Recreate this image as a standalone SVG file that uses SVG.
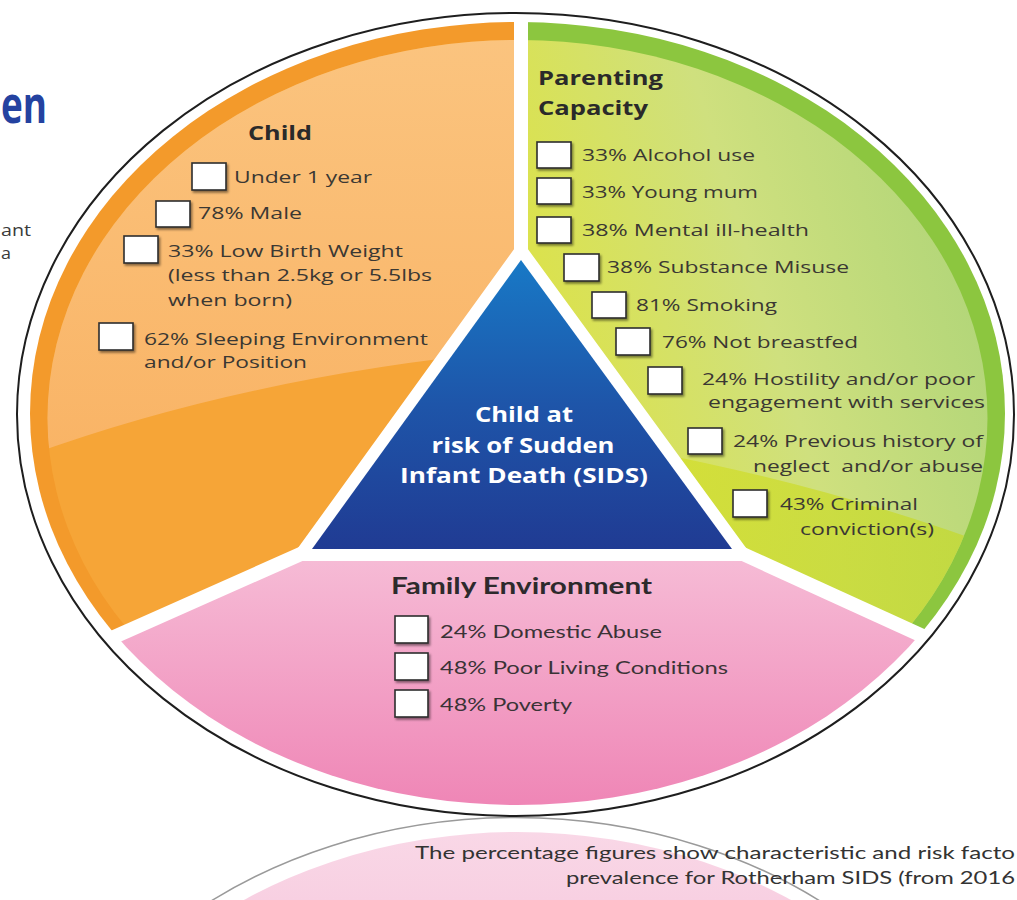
<svg xmlns="http://www.w3.org/2000/svg" width="1017" height="900" viewBox="0 0 1017 900">
<defs>
<style>
.it{font-family:"Open Sans","DejaVu Sans",sans-serif;font-size:16px;fill:#3b3833}
.hd{font-family:"Open Sans","DejaVu Sans",sans-serif;font-weight:700;font-size:20px;fill:#2a2a2a}
.fe{font-family:Lato,"Liberation Sans",sans-serif;font-size:17.5px;fill:#3a3336}
.feh{font-family:Lato,"Liberation Sans",sans-serif;font-weight:700;font-size:22px;fill:#2d2a2c}
.ct{font-family:"Open Sans","DejaVu Sans",sans-serif;font-weight:700;font-size:21px;fill:#ffffff}
.fn{font-family:Lato,"Liberation Sans",sans-serif;font-size:18px;fill:#333333}
.side{font-family:"Open Sans","DejaVu Sans",sans-serif;font-size:17px;fill:#3a3a3a}
.box{fill:#ffffff;stroke:#2e2e2e;stroke-width:1.6;filter:url(#sh)}
.div{stroke:#ffffff;stroke-width:14;fill:none}
</style>
<filter id="sh" x="-30%" y="-30%" width="170%" height="170%">
<feDropShadow dx="1.5" dy="2" stdDeviation="1.3" flood-color="#000000" flood-opacity="0.45"/>
</filter>
<filter id="soft" x="-5%" y="-5%" width="110%" height="110%">
<feGaussianBlur stdDeviation="2"/>
</filter>
<clipPath id="cpO"><polygon points="521,-10 -10,-10 -10,692 312,549 521,260"/></clipPath>
<clipPath id="cpG"><polygon points="521,-10 1030,-10 1030,685 732,549 521,260"/></clipPath>
<clipPath id="cpP"><polygon points="-10,692 312,549 732,549 1030,685 1030,910 -10,910"/></clipPath>
<clipPath id="cpOgloss"><path d="M -10 -10 H 521 V 350 Q 250 375 30 455 L -10 470 Z"/></clipPath>
<clipPath id="cpGlow"><path d="M 521 430 Q 800 470 1030 560 V 910 H 521 Z"/></clipPath>
<linearGradient id="gOgloss" x1="0" y1="30" x2="0" y2="450" gradientUnits="userSpaceOnUse">
<stop offset="0" stop-color="#FBC47F"/><stop offset="1" stop-color="#F9B466"/>
</linearGradient>
<linearGradient id="gGin" x1="560" y1="330" x2="990" y2="200" gradientUnits="userSpaceOnUse">
<stop offset="0" stop-color="#DBE24E"/><stop offset="0.45" stop-color="#CFE07E"/><stop offset="1" stop-color="#ADD478"/>
</linearGradient>
<linearGradient id="gGlow" x1="600" y1="450" x2="950" y2="600" gradientUnits="userSpaceOnUse">
<stop offset="0" stop-color="#D6DF2C"/><stop offset="1" stop-color="#C3D92F"/>
</linearGradient>
<linearGradient id="gP" x1="0" y1="555" x2="0" y2="805" gradientUnits="userSpaceOnUse">
<stop offset="0" stop-color="#F6BCD6"/><stop offset="1" stop-color="#EF86B6"/>
</linearGradient>
<linearGradient id="gB" x1="0" y1="260" x2="0" y2="549" gradientUnits="userSpaceOnUse">
<stop offset="0" stop-color="#1879C6"/><stop offset="0.5" stop-color="#1E55A9"/><stop offset="1" stop-color="#203B93"/>
</linearGradient>
<linearGradient id="gR" x1="0" y1="829" x2="0" y2="900" gradientUnits="userSpaceOnUse">
<stop offset="0" stop-color="#F9D8E7"/><stop offset="1" stop-color="#F8D0E2"/>
</linearGradient>
</defs>
<rect x="0" y="0" width="1017" height="900" fill="#ffffff"/>

<g id="side-text">
<text x="1" y="123" font-family="'Open Sans','DejaVu Sans',sans-serif" font-weight="700" font-size="52" fill="#2442A0" textLength="46" lengthAdjust="spacingAndGlyphs">en</text>
<text class="side" x="1" y="236" textLength="30" lengthAdjust="spacingAndGlyphs">ant</text>
<text class="side" x="1" y="259" textLength="10" lengthAdjust="spacingAndGlyphs">a</text>
</g>

<g id="reflection">
<ellipse cx="515.5" cy="1219" rx="498.5" ry="401.5" fill="#ffffff" stroke="#9a9a9a" stroke-width="1.5"/>
<ellipse cx="517.5" cy="1222" rx="485" ry="390" fill="url(#gR)"/>
</g>

<g id="segments">
<g clip-path="url(#cpO)">
<ellipse cx="517.5" cy="413.5" rx="487.5" ry="391.5" fill="#F39A2B"/>
<ellipse cx="517.5" cy="418" rx="470" ry="378" fill="#F6A537"/>
<g clip-path="url(#cpOgloss)">
<ellipse cx="517.5" cy="418" rx="470" ry="378" fill="url(#gOgloss)"/>
</g>
</g>
<g clip-path="url(#cpG)">
<ellipse cx="517.5" cy="413.5" rx="487.5" ry="391.5" fill="#8CC63F"/>
<ellipse cx="517.5" cy="418" rx="470" ry="378" fill="url(#gGin)"/>
<g clip-path="url(#cpGlow)">
<ellipse cx="517.5" cy="418" rx="470" ry="378" fill="url(#gGlow)" opacity="0.75"/>
</g>
</g>
<g clip-path="url(#cpP)">
<ellipse cx="517.5" cy="413.5" rx="487.5" ry="391.5" fill="url(#gP)"/>
</g>
</g>

<g id="connectors">
<line class="div" x1="521" y1="0" x2="521" y2="262"/>
<line class="div" x1="312" y1="549" x2="-10" y2="692"/>
<line class="div" x1="732" y1="549" x2="1030" y2="685"/>
<ellipse cx="515.5" cy="414.5" rx="498.5" ry="401.5" fill="none" stroke="#1e1e1e" stroke-width="2"/>
</g>

<g id="node-center">
<polygon points="521,260 312,549 732,549" fill="#ffffff" stroke="#ffffff" stroke-width="24" stroke-linejoin="miter"/>
<polygon points="521,260 312,549 732,549" fill="url(#gB)"/>
<text class="ct" x="524" y="422" text-anchor="middle" textLength="98" lengthAdjust="spacingAndGlyphs">Child at</text>
<text class="ct" x="523" y="453" text-anchor="middle" textLength="183" lengthAdjust="spacingAndGlyphs">risk of Sudden</text>
<text class="ct" x="524" y="483" text-anchor="middle" textLength="248" lengthAdjust="spacingAndGlyphs">Infant Death (SIDS)</text>
</g>

<g id="node-child">
<text class="hd" x="248" y="140" textLength="64" lengthAdjust="spacingAndGlyphs">Child</text>
<rect class="box" x="192" y="163" width="34" height="27"/>
<text class="it" x="234" y="183" textLength="138" lengthAdjust="spacingAndGlyphs">Under 1 year</text>
<rect class="box" x="156" y="201" width="34" height="26"/>
<text class="it" x="198" y="219" textLength="104" lengthAdjust="spacingAndGlyphs">78% Male</text>
<rect class="box" x="124" y="236" width="34" height="27"/>
<text class="it" x="168" y="257" textLength="235" lengthAdjust="spacingAndGlyphs">33% Low Birth Weight</text>
<text class="it" x="168" y="281" textLength="264" lengthAdjust="spacingAndGlyphs">(less than 2.5kg or 5.5lbs</text>
<text class="it" x="168" y="306" textLength="124" lengthAdjust="spacingAndGlyphs">when born)</text>
<rect class="box" x="99" y="323" width="34" height="27"/>
<text class="it" x="144" y="345" textLength="284" lengthAdjust="spacingAndGlyphs">62% Sleeping Environment</text>
<text class="it" x="144" y="368" textLength="163" lengthAdjust="spacingAndGlyphs">and/or Position</text>
</g>

<g id="node-parenting">
<text class="hd" x="538" y="85" textLength="125" lengthAdjust="spacingAndGlyphs">Parenting</text>
<text class="hd" x="538" y="115" textLength="110" lengthAdjust="spacingAndGlyphs">Capacity</text>
<rect class="box" x="537" y="142" width="34" height="26"/>
<text class="it" x="582" y="161" textLength="173" lengthAdjust="spacingAndGlyphs">33% Alcohol use</text>
<rect class="box" x="537" y="178" width="34" height="26"/>
<text class="it" x="582" y="198" textLength="176" lengthAdjust="spacingAndGlyphs">33% Young mum</text>
<rect class="box" x="537" y="217" width="34" height="26"/>
<text class="it" x="582" y="236" textLength="227" lengthAdjust="spacingAndGlyphs">38% Mental ill-health</text>
<rect class="box" x="564" y="254" width="35" height="27"/>
<text class="it" x="607" y="273" textLength="242" lengthAdjust="spacingAndGlyphs">38% Substance Misuse</text>
<rect class="box" x="592" y="292" width="34" height="26"/>
<text class="it" x="636" y="311" textLength="141" lengthAdjust="spacingAndGlyphs">81% Smoking</text>
<rect class="box" x="616" y="328" width="34" height="27"/>
<text class="it" x="662" y="348" textLength="196" lengthAdjust="spacingAndGlyphs">76% Not breastfed</text>
<rect class="box" x="648" y="367" width="34" height="27"/>
<text class="it" x="702" y="385" textLength="273" lengthAdjust="spacingAndGlyphs">24% Hostility and/or poor</text>
<text class="it" x="708" y="408" textLength="277" lengthAdjust="spacingAndGlyphs">engagement with services</text>
<rect class="box" x="688" y="428" width="34" height="26"/>
<text class="it" x="733" y="447" textLength="250" lengthAdjust="spacingAndGlyphs">24% Previous history of</text>
<text class="it" x="753" y="472" textLength="230" lengthAdjust="spacingAndGlyphs" xml:space="preserve">neglect  and/or abuse</text>
<rect class="box" x="733" y="490" width="34" height="27"/>
<text class="it" x="780" y="510" textLength="138" lengthAdjust="spacingAndGlyphs">43% Criminal</text>
<text class="it" x="800" y="535" textLength="134" lengthAdjust="spacingAndGlyphs">conviction(s)</text>
</g>

<g id="node-family">
<text class="feh" x="391" y="594" textLength="261" lengthAdjust="spacingAndGlyphs">Family Environment</text>
<rect class="box" x="395" y="616" width="33" height="27"/>
<text class="fe" x="440" y="638" textLength="222" lengthAdjust="spacingAndGlyphs">24% Domestic Abuse</text>
<rect class="box" x="395" y="653" width="33" height="27"/>
<text class="fe" x="440" y="674" textLength="288" lengthAdjust="spacingAndGlyphs">48% Poor Living Conditions</text>
<rect class="box" x="395" y="690" width="33" height="27"/>
<text class="fe" x="440" y="711" textLength="132" lengthAdjust="spacingAndGlyphs">48% Poverty</text>
</g>

<g id="footnote">
<text class="fn" x="415" y="859" textLength="600" lengthAdjust="spacingAndGlyphs">The percentage figures show characteristic and risk facto</text>
<text class="fn" x="566" y="884" textLength="449" lengthAdjust="spacingAndGlyphs">prevalence for Rotherham SIDS (from 2016</text>
</g>
</svg>
